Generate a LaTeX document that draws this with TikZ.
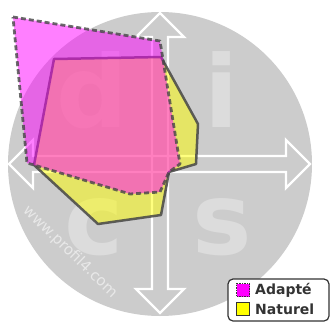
\documentclass[tikz,border=0pt]{standalone}
\usepackage{fontspec}
\setmainfont{DejaVu Sans}
\newfontfamily\boldsans{DejaVu Sans Bold}
\definecolor{disc}{RGB}{204,204,204}
\definecolor{letter}{RGB}{220,220,220}
\definecolor{edge}{RGB}{70,70,70}
\definecolor{legtext}{RGB}{51,51,51}
\definecolor{mag}{RGB}{255,0,255}
\definecolor{yel}{RGB}{255,255,0}
\tikzset{
  bigletter/.style={text=letter, font=\boldsans\fontsize{100}{100}\selectfont, anchor=base, inner sep=0pt},
  arrowline/.style={draw=white, line width=2.4pt, line join=miter},
  naturel/.style={fill=yel, fill opacity=0.5, draw=edge, draw opacity=0.85, line width=2.5pt, line join=round},
  adapte/.style={fill=mag, fill opacity=0.5, draw=edge, draw opacity=0.8, line width=2.8pt, dash pattern=on 5pt off 3pt, line join=round},
  legbox/.style={draw=legtext, line width=1.2pt, fill=white, rounded corners=5pt},
  legsq/.style={minimum size=13pt, inner sep=0pt, line width=1pt},
  legtxt/.style={text=legtext, font=\boldsans\fontsize{14}{14}\selectfont, anchor=west, inner sep=0pt}
}
\begin{document}
\begin{tikzpicture}[x=1pt,y=-1pt]
\useasboundingbox (0,0) rectangle (330,322);
% disc
\fill[disc] (160,164) circle (152);
% letters
\node[bigletter] (ld) at (92,127) {d};
\node[bigletter] (li) at (222,127) {i};
\node[bigletter] (lc) at (94,254) {c};
\node[bigletter] (ls) at (222,254) {s};
% watermark
\node[text=white, text opacity=0.55, font=\fontsize{15}{15}\selectfont, rotate=-44, inner sep=0pt] (url) at (70,252) {www.profil4.com};
% arrows
\draw[arrowline] (9,164) -- (33,140) -- (33,156) -- (286,156) -- (286,140) -- (310,164) -- (286,188) -- (286,172) -- (33,172) -- (33,188) -- cycle;
\draw[arrowline] (160,13) -- (184,37) -- (168,37) -- (168,289) -- (184,289) -- (160,313) -- (136,289) -- (152,289) -- (152,37) -- (136,37) -- cycle;
% polygons
\draw[naturel] (54,59) -- (161,57) -- (198,124) -- (196,164) -- (169,172) -- (161,215) -- (98,224) -- (34,165) -- cycle;
\draw[adapte] (13,17) -- (160,41) -- (180,164) -- (169,172) -- (160,192) -- (130,194) -- (34,165) -- (27,163) -- cycle;
% legend
\draw[legbox] (228,279) rectangle (329,321);
\node[legsq, fill=mag, draw=legtext, dash pattern=on 1.5pt off 1pt] (sqa) at (243,290) {};
\node[legsq, fill=yel, draw=legtext] (sqn) at (243,309) {};
\node[legtxt] (ta) at (255,290) {Adapté};
\node[legtxt] (tn) at (255,309) {Naturel};
\end{tikzpicture}
\end{document}
